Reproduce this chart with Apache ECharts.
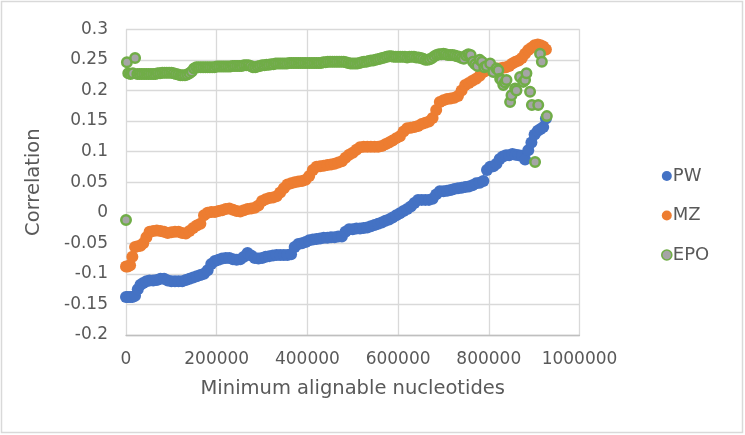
<!DOCTYPE html>
<html>
<head>
<meta charset="utf-8">
<script src="https://cdn.jsdelivr.net/npm/echarts@6.0.0/dist/echarts.min.js"></script>
<style>
html,body{margin:0;padding:0;background:#fff;}
#chart{width:745px;height:435px;}
</style>
</head>
<body>
<div id="chart"></div>
<script>
const seriesNames = ['PW', 'MZ', 'EPO'];
const xValues = [
  0, 4000, 9000, 14000, 20000, 26000, 32000, 38000,
  45000, 52000, 60000, 68000, 76000, 84000, 92000, 100000,
  108000, 116000, 124000, 132000, 140000, 148000, 156000, 164000,
  172000, 180000, 188000, 196000, 204000, 212000, 220000, 228000,
  236000, 244000, 252000, 260000, 268000, 276000, 284000, 292000,
  300000, 308000, 316000, 324000, 332000, 340000, 348000, 356000,
  364000, 372000, 380000, 388000, 396000, 404000, 412000, 420000,
  428000, 436000, 444000, 452000, 460000, 468000, 476000, 484000,
  492000, 500000, 508000, 516000, 524000, 532000, 540000, 548000,
  556000, 564000, 572000, 580000, 588000, 596000, 604000, 612000,
  620000, 628000, 636000, 644000, 652000, 660000, 668000, 676000,
  684000, 692000, 700000, 708000, 716000, 724000, 732000, 740000,
  748000, 756000, 764000, 772000, 780000, 788000, 796000, 803000,
  810000, 817000, 824000, 831000, 838000, 845000, 852000, 859000,
  866000, 873000, 880000, 887000, 894000, 901000, 908000, 914000,
  920000, 926000
];
const pwValues = [
  -0.138, -0.138, -0.138, -0.138, -0.136, -0.125, -0.118, -0.115,
  -0.112, -0.111, -0.111, -0.110, -0.108, -0.108, -0.111, -0.112,
  -0.112, -0.112, -0.112, -0.110, -0.108, -0.106, -0.104, -0.102,
  -0.100, -0.094, -0.084, -0.079, -0.077, -0.075, -0.074, -0.074,
  -0.076, -0.077, -0.076, -0.072, -0.066, -0.070, -0.074, -0.075,
  -0.074, -0.072, -0.071, -0.070, -0.069, -0.069, -0.069, -0.069,
  -0.068, -0.056, -0.051, -0.050, -0.048, -0.045, -0.044, -0.043,
  -0.042, -0.041, -0.041, -0.040, -0.040, -0.039, -0.039, -0.031,
  -0.027, -0.027, -0.026, -0.026, -0.025, -0.024, -0.022, -0.020,
  -0.018, -0.016, -0.013, -0.011, -0.008, -0.004, -0.001, 0.003,
  0.006, 0.010, 0.016, 0.021, 0.021, 0.021, 0.021, 0.023,
  0.030, 0.035, 0.035, 0.036, 0.037, 0.039, 0.040, 0.041,
  0.042, 0.043, 0.045, 0.048, 0.049, 0.052, 0.070, 0.075,
  0.076, 0.080, 0.088, 0.092, 0.094, 0.094, 0.096, 0.095,
  0.094, 0.093, 0.087, 0.102, 0.115, 0.128, 0.134, 0.137,
  0.140, 0.154
];
const mzValues = [
  -0.088, -0.088, -0.086, -0.072, -0.056, -0.055, -0.054, -0.050,
  -0.040, -0.031, -0.030, -0.029, -0.030, -0.031, -0.033, -0.032,
  -0.031, -0.031, -0.033, -0.034, -0.030, -0.025, -0.021, -0.018,
  -0.004, 0.000, 0.001, 0.001, 0.003, 0.004, 0.006, 0.007,
  0.005, 0.003, 0.002, 0.004, 0.006, 0.007, 0.008, 0.012,
  0.019, 0.022, 0.024, 0.025, 0.027, 0.033, 0.040, 0.046,
  0.048, 0.050, 0.051, 0.052, 0.054, 0.060, 0.070, 0.075,
  0.076, 0.077, 0.078, 0.079, 0.080, 0.082, 0.084, 0.090,
  0.095, 0.098, 0.103, 0.107, 0.108, 0.108, 0.108, 0.108,
  0.108, 0.109, 0.112, 0.115, 0.118, 0.122, 0.125, 0.133,
  0.138, 0.139, 0.140, 0.142, 0.145, 0.147, 0.149, 0.155,
  0.168, 0.181, 0.184, 0.186, 0.187, 0.188, 0.191, 0.200,
  0.209, 0.212, 0.216, 0.219, 0.224, 0.230, 0.233, 0.234,
  0.235, 0.236, 0.236, 0.237, 0.238, 0.240, 0.244, 0.247,
  0.249, 0.253, 0.260, 0.266, 0.270, 0.274, 0.275, 0.274,
  0.272, 0.267
];
const epoX = [
  0, 2000, 5000, 10000, 15000, 20000, 25000, 30000, 35000, 40000, 45000,
  50000, 55000, 60000, 65000, 70000, 75000, 80000, 85000, 90000, 95000,
  100000, 105000, 110000, 115000, 120000, 125000, 130000, 135000, 140000, 145000,
  150000, 155000, 160000, 165000, 170000, 175000, 180000, 185000, 190000, 195000,
  200000, 205000, 210000, 215000, 220000, 225000, 230000, 235000, 240000, 245000,
  250000, 255000, 260000, 265000, 270000, 275000, 280000, 285000, 290000, 295000,
  300000, 305000, 310000, 315000, 320000, 325000, 330000, 335000, 340000, 345000,
  350000, 355000, 360000, 365000, 370000, 375000, 380000, 385000, 390000, 395000,
  400000, 405000, 410000, 415000, 420000, 425000, 430000, 435000, 440000, 445000,
  450000, 455000, 460000, 465000, 470000, 475000, 480000, 485000, 490000, 495000,
  500000, 505000, 510000, 515000, 520000, 525000, 530000, 535000, 540000, 545000,
  550000, 555000, 560000, 565000, 570000, 575000, 580000, 585000, 590000, 595000,
  600000, 605000, 610000, 615000, 620000, 625000, 630000, 635000, 640000, 645000,
  650000, 655000, 660000, 665000, 670000, 675000, 680000, 685000, 690000, 695000,
  700000, 705000, 710000, 715000, 720000, 725000, 730000, 735000, 740000, 745000,
  750000, 755000, 760000, 765000, 770000, 775000, 780000, 785000, 790000, 795000,
  803000, 810000, 817000, 821000, 825000, 828000, 832000, 836000, 839000, 847000,
  850000, 858000, 861000, 869000, 876000, 880000, 883000, 891000, 895000, 902000,
  909000, 913000, 917000, 928000
];
const epoValues = [
  -0.012, 0.246, 0.228, 0.227, 0.228, 0.253, 0.227, 0.227, 0.227, 0.227, 0.227,
  0.227, 0.227, 0.227, 0.227, 0.228, 0.228, 0.229, 0.229, 0.229, 0.229,
  0.229, 0.228, 0.227, 0.226, 0.225, 0.225, 0.225, 0.226, 0.228, 0.231,
  0.236, 0.238, 0.238, 0.238, 0.238, 0.238, 0.238, 0.238, 0.238, 0.238,
  0.239, 0.239, 0.239, 0.239, 0.239, 0.239, 0.239, 0.240, 0.240, 0.240,
  0.240, 0.240, 0.241, 0.241, 0.241, 0.240, 0.238, 0.238, 0.239, 0.240,
  0.241, 0.241, 0.242, 0.242, 0.243, 0.243, 0.244, 0.244, 0.244, 0.244,
  0.244, 0.244, 0.245, 0.245, 0.245, 0.245, 0.245, 0.245, 0.245, 0.245,
  0.245, 0.245, 0.245, 0.245, 0.245, 0.245, 0.245, 0.246, 0.246, 0.247,
  0.247, 0.247, 0.247, 0.247, 0.247, 0.247, 0.247, 0.246, 0.245, 0.244,
  0.244, 0.244, 0.244, 0.245, 0.246, 0.247, 0.247, 0.248, 0.249, 0.249,
  0.250, 0.251, 0.252, 0.253, 0.254, 0.255, 0.256, 0.256, 0.255, 0.255,
  0.255, 0.255, 0.255, 0.255, 0.254, 0.255, 0.255, 0.255, 0.254, 0.254,
  0.253, 0.252, 0.250, 0.250, 0.251, 0.253, 0.256, 0.258, 0.259, 0.259,
  0.260, 0.259, 0.258, 0.258, 0.258, 0.257, 0.256, 0.255, 0.253, 0.252,
  0.257, 0.259, 0.258, 0.247, 0.243, 0.240, 0.250, 0.247, 0.238, 0.240,
  0.244, 0.230, 0.236, 0.233, 0.219, 0.217, 0.209, 0.213, 0.217, 0.181,
  0.192, 0.203, 0.200, 0.222, 0.214, 0.217, 0.228, 0.198, 0.176, 0.083,
  0.176, 0.260, 0.247, 0.158
];
const xTickLabels = ['0', '200000', '400000', '600000', '800000', '1000000'];
const yTickLabels = ['-0.2', '-0.15', '-0.1', '-0.05', '0', '0.05', '0.1', '0.15', '0.2', '0.25', '0.3'];
const xAxisTitle = 'Minimum alignable nucleotides';
const yAxisTitle = 'Correlation';

const xTicks = xTickLabels.map(Number);
const yTicks = yTickLabels.map(Number);
function tickText(labels, ticks, v) {
  let best = 0;
  for (let i = 1; i < ticks.length; i++) {
    if (Math.abs(ticks[i] - v) < Math.abs(ticks[best] - v)) best = i;
  }
  return labels[best];
}
const pairs = (xs, vals) => xs.map((x, i) => [x, vals[i]]);

const FONT = 'DejaVu Sans';
const TXT = '#595959';
const GRIDC = '#d9d9d9';

const chart = echarts.init(document.getElementById('chart'), null, {renderer: 'canvas'});
const xCommon = {
  type: 'value',
  min: xTicks[0],
  max: xTicks[xTicks.length - 1],
  interval: xTicks[1] - xTicks[0]
};
chart.setOption({
  animation: false,
  backgroundColor: '#ffffff',
  graphic: [{
    type: 'rect', silent: true, z: -10,
    shape: {x: 1.5, y: 1.5, width: 741, height: 431},
    style: {fill: '#ffffff', stroke: '#d9d9d9', lineWidth: 1.5}
  }],
  grid: {left: 126, right: 165.5, top: 29.3, bottom: 100, containLabel: false, outerBoundsMode: 'none'},
  legend: {
    orient: 'vertical',
    left: 656,
    top: 161,
    itemWidth: 10,
    itemHeight: 10,
    itemGap: 19.5,
    icon: 'circle',
    data: [
      {name: seriesNames[0]},
      {name: seriesNames[1]},
      {name: seriesNames[2], itemStyle: {borderWidth: 1.6}}
    ],
    textStyle: {fontFamily: FONT, fontSize: 18, color: TXT, lineHeight: 20, padding: [0, 0, 0, -4]}
  },
  xAxis: [Object.assign({}, xCommon, {
    name: xAxisTitle,
    nameLocation: 'middle',
    nameGap: 44,
    nameTextStyle: {fontFamily: FONT, fontSize: 19.5, color: TXT},
    axisLine: {show: false},
    axisTick: {show: false},
    axisLabel: {fontFamily: FONT, fontSize: 17, color: TXT, margin: 16,
      formatter: v => tickText(xTickLabels, xTicks, v)},
    splitLine: {show: true, lineStyle: {color: GRIDC, width: 1.3}}
  }), Object.assign({}, xCommon, {
    position: 'bottom',
    axisLine: {show: true, onZero: true, lineStyle: {color: '#bfbfbf', width: 1.3}},
    axisTick: {show: false},
    axisLabel: {show: false},
    splitLine: {show: false}
  })],
  yAxis: {
    type: 'value',
    min: yTicks[0],
    max: yTicks[yTicks.length - 1],
    interval: 0.05,
    name: yAxisTitle,
    nameLocation: 'middle',
    nameGap: 82,
    nameTextStyle: {fontFamily: FONT, fontSize: 19.5, color: TXT},
    axisLine: {show: false},
    axisTick: {show: false},
    axisLabel: {fontFamily: FONT, fontSize: 17, color: TXT, margin: 18,
      formatter: v => tickText(yTickLabels, yTicks, v)},
    splitLine: {show: true, lineStyle: {color: GRIDC, width: 1.3}}
  },
  series: [
    {name: seriesNames[0], type: 'scatter', symbol: 'circle', symbolSize: 12,
     itemStyle: {color: '#4472c4', opacity: 1}, data: pairs(xValues, pwValues)},
    {name: seriesNames[1], type: 'scatter', symbol: 'circle', symbolSize: 12,
     itemStyle: {color: '#ed7d31', opacity: 1}, data: pairs(xValues, mzValues)},
    {name: seriesNames[2], type: 'scatter', symbol: 'circle', symbolSize: 9.5,
     itemStyle: {color: '#a5a5a5', borderColor: '#70ad47', borderWidth: 2.5, opacity: 1},
     data: pairs(epoX, epoValues)}
  ]
});
</script>
</body>
</html>
